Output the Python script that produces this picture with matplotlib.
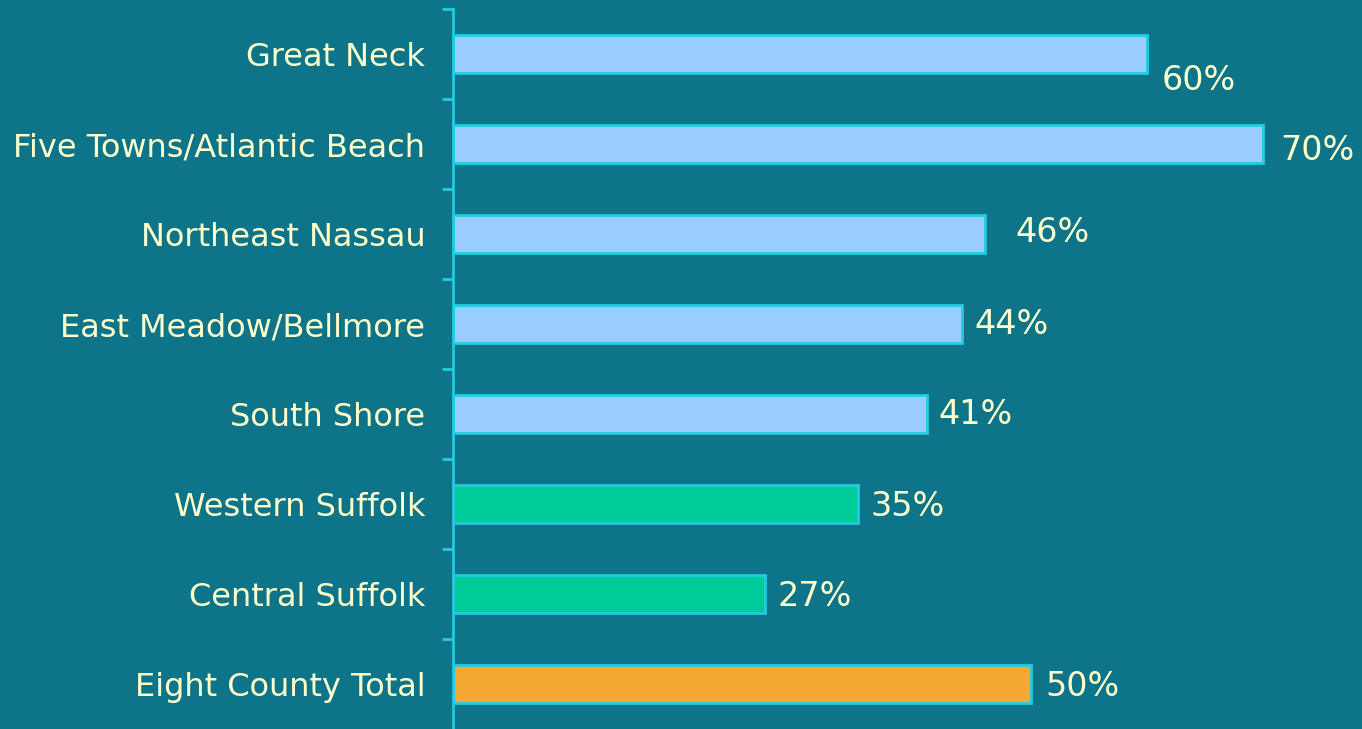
import matplotlib
matplotlib.use("Agg")
import matplotlib.pyplot as plt

categories = ["Great Neck", "Five Towns/Atlantic Beach", "Northeast Nassau",
              "East Meadow/Bellmore", "South Shore", "Western Suffolk",
              "Central Suffolk", "Eight County Total"]
values = [60, 70, 46, 44, 41, 35, 27, 50]
labels = ["60%", "70%", "46%", "44%", "41%", "35%", "27%", "50%"]
colors = ["#99CCFF"] * 5 + ["#00CC99"] * 2 + ["#F5A733"]

# label offsets in pixels (dx, dy downward) as in the original
label_offsets = [(15, 26), (18, 7), (30, -1), (13, 1), (11, 1), (13, 3), (12, 2), (14, 3)]

BG = "#0E7489"
TXT = "#FFFFCC"
CYAN = "#22CCE0"

plt.rcParams['font.family'] = ['DejaVu Sans']
fig = plt.figure(figsize=(13.62, 7.29), dpi=100, facecolor=BG)
ax = fig.add_axes([453 / 1362, 0, 1 - 453 / 1362, 720 / 729], facecolor=BG)

y = list(range(len(categories)))
ax.barh(y, values, height=0.42, color=colors, edgecolor=CYAN, linewidth=2)
ax.set_ylim(len(categories) - 0.5, -0.5)
ax.set_xlim(0, 78.6)

for i, (v, lab) in enumerate(zip(values, labels)):
    dx, dy = label_offsets[i]
    ax.annotate(lab, (v, i), xytext=(dx * 0.72, -dy * 0.72), textcoords="offset points",
                ha="left", va="center", color=TXT, fontsize=24)

ax.set_yticks(y)
ax.set_yticklabels(categories, color=TXT, fontsize=23)
ax.tick_params(axis="y", which="major", length=0, pad=20)
ax.set_yticks([i - 0.5 for i in range(len(categories))], minor=True)
ax.tick_params(axis="y", which="minor", length=8, width=2, color=CYAN, direction="out")
ax.set_xticks([])
for s in ["top", "right", "bottom"]:
    ax.spines[s].set_visible(False)
ax.spines["left"].set_color(CYAN)
ax.spines["left"].set_linewidth(2)

fig.savefig("out.png", dpi=100, facecolor=BG)
